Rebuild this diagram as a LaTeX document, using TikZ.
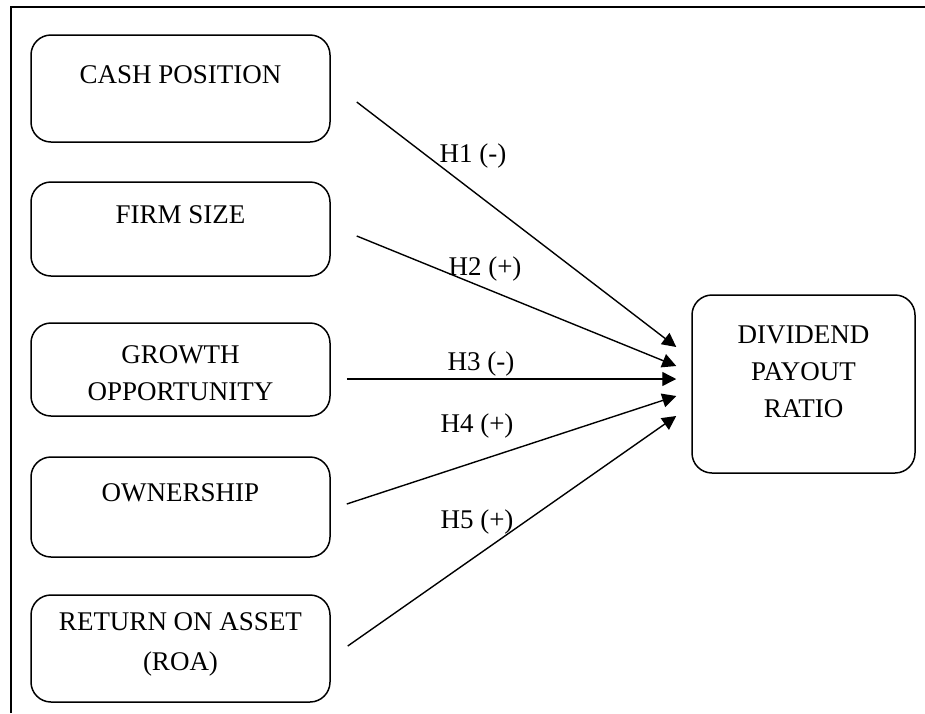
\documentclass[tikz,border=0pt]{standalone}
\usepackage{fontspec}
\setmainfont{Liberation Serif}
\usetikzlibrary{arrows.meta}

\begin{document}
\begin{tikzpicture}
[x=0.5pt,y=-0.5pt,%
  every node/.style={font=\fontsize{13.5}{18.5}\selectfont},%
  var/.style={draw,rounded corners=10pt,line width=0.75pt,align=center,%
    minimum width=149.5pt,inner sep=0pt},%
  oneline/.style={text height=9pt,text depth=14.5pt},%
  link/.style={-{Triangle[length=7pt,width=7pt]},line width=0.7pt},%
  hyp/.style={anchor=base,inner sep=0pt}]
\useasboundingbox (0,0) rectangle (925,713);
% outer frame, open to the right and bottom
\draw[line width=1pt] (11,713) -- (11,7) -- (925,7);

% variables
\node[var,oneline,minimum height=53.5pt] (cash) at (180.5,88.5) {CASH POSITION};
\node[var,oneline,minimum height=47pt] (size) at (180.5,229) {FIRM SIZE};
\node[var,minimum height=46.5pt] (growth) at (180.5,369.5)
  {\rule{0pt}{13pt}GROWTH\\OPPORTUNITY};
\node[var,oneline,minimum height=50pt] (own) at (180.5,507) {OWNERSHIP};
\node[var,minimum height=53.5pt] (roa) at (180.5,648.5)
  {RETURN ON ASSET\\[1.5pt](ROA)\rule[-6.5pt]{0pt}{6.5pt}};
\node[var,minimum width=111.5pt,minimum height=89pt] (dpr) at (803.5,384)
  {DIVIDEND\\PAYOUT\\RATIO\\[-12pt]\strut};

% arrow ends
\coordinate (s1) at ([shift={(26,13.5)}]cash.east);
\coordinate (s2) at ([shift={(26,7)}]size.east);
\coordinate (s3) at ([shift={(16,9.5)}]growth.east);
\coordinate (s4) at ([shift={(16,-3)}]own.east);
\coordinate (s5) at ([shift={(17,-2.5)}]roa.east);
\coordinate (t1) at ([shift={(-15,-37)}]dpr.west);
\coordinate (t2) at ([shift={(-15,-18)}]dpr.west);
\coordinate (t3) at ([shift={(-15,-5)}]dpr.west);
\coordinate (t4) at ([shift={(-15,12)}]dpr.west);
\coordinate (t5) at ([shift={(-15,32)}]dpr.west);

\draw[link] (s1) -- (t1);
\draw[link] (s2) -- (t2);
\draw[link] (s3) -- (t3);
\draw[link] (s4) -- (t4);
\draw[link] (s5) -- (t5);

% hypotheses
\node[hyp] (h1) at (473,162) {H1 (-)};
\node[hyp] (h2) at (485,275) {H2 (+)};
\node[hyp] (h3) at (481,370) {H3 (-)};
\node[hyp] (h4) at (477,432) {H4 (+)};
\node[hyp] (h5) at (477,528) {H5 (+)};
\end{tikzpicture}
\end{document}
